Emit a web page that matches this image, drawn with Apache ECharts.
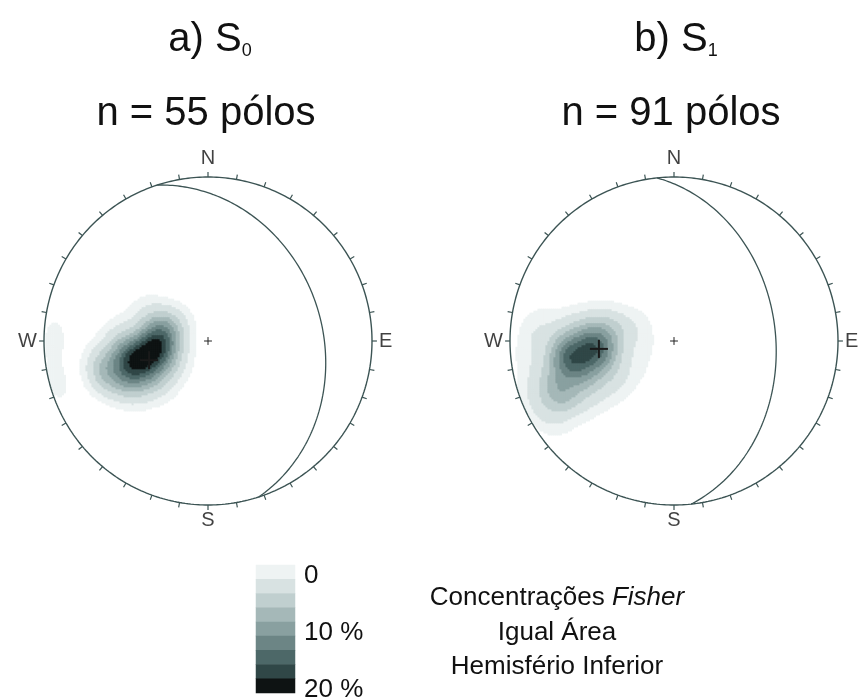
<!DOCTYPE html>
<html><head><meta charset="utf-8">
<script src="https://cdn.jsdelivr.net/npm/echarts@6/dist/echarts.min.js"></script>
<style>html,body{margin:0;padding:0;background:#fff}#c{width:859px;height:697px}</style>
</head><body><div id="c"></div>
<script>
// ---- data: poles to S0 and S1 as [trend, plunge] in degrees (lower hemisphere) ----
const polesS0 = [
  [254,54],[256,53],[250,55],[252,52],[256,57],[249,53],[259,56],[255,51],
  [264,48],[238,59],[245,45],[278,66],[256,43],
  [263,64],[267,62],[260,65],[269,66],[260,61],[264,67],[266,64],[251,31],
  [272,60],[279,68],[290,70],[245,47],[251,46],[240,57],[245,63],[250,71],[262,45],[268,50],[236,52],[290,66],
  [260,51],[254,61],[264,59],[254,48],[250,67],
  [254,38],[251,34],[257,32],[246,38],[236,45],[228,57],[234,68],[266,71],[294,73],[295,55],[284,61],[274,44],
  [260,36],[242,42],[295,66],
  [271,7],[255,5]
];
const polesS1 = [
  [264,50],[267,48],[260,48],[260,53],[267,46],[263,49],[264,52],[269,48],[263,54],[262,45],[264,51],
  [272,55],[265,58],[271,44],[265,42],[256,43],[253,51],[254,57],[276,47],[275,53],[272,61],[259,40],[247,52],
  [261,35],[263,34],[259,36],[258,33],[264,38],[261,31],[255,37],[266,35],[262,32],[252,35],
  [245,25],[247,24],[243,27],[244,20],[249,27],[246,30],
  [249,36],[245,38],[246,43],[256,20],[262,25],[266,28],[271,31],[274,39],[280,41],[282,49],[285,57],[282,62],[260,33],[246,25],[241,56],[239,43],[240,31],[243,15],[252,15],[255,24],
  [271,13],[263,9],[275,16],[276,22],[278,33],[287,51],[293,66],[289,72],[256,74],[234,66],[232,55],[233,46],[235,34],[237,18],[239,9],[250,7],[244,6],
  [258,44],[262,37],[260,32],[246,25],[251,42],[280,56],[247,18],
  [262,42],[270,45],[257,54],[273,52],[267,39],[253,46],[261,59],[250,41]
];
// mean planes [dip direction, dip]
const planeS0 = [72, 31];
const planeS1 = [84, 38];
// density classes (% per 1% area) and colours
const levelBounds = [1.0, 2.5, 5, 7.5, 10, 12.5, 15, 17.5, 20];
const levelColors = ['#eef3f3','#d8e2e2','#c0cfcf','#a5b8b8','#89a0a0','#6c8585','#4d6868','#304747','#0e1313'];
const legendValues = [1.5, 3.5, 6, 8.5, 11, 13.5, 16, 18.5, 22];
const legendLabels = ['0','','','','10 %','','','','20 %'];
const compassLabels = ['N','E','S','W'];
const plotTitles = [['a) S','0'],['b) S','1']];
const countTitles = ['n = 55 pólos','n = 91 pólos'];
const noteLines = ['Concentrações ','Fisher','Igual Área','Hemisfério Inferior'];

// ---- helpers ----
const D = Math.PI/180, R = 164, EXT = 1.1, NB = 180, KAPPA = 80;
const centers = [[208,341],[674,341]];
const FONT = 'Liberation Sans, Arial, sans-serif';
const LINE = '#3c5454';

function project(trend, plunge){
  const r = Math.SQRT2*Math.sin((90-plunge)*D/2);
  return [r*Math.sin(trend*D), r*Math.cos(trend*D)];
}
function greatCircle(pl){
  const dd = pl[0], dip = pl[1], s = (dd-90)*D;
  const sv = [Math.sin(s), Math.cos(s), 0];
  const dv = [Math.cos(dip*D)*Math.sin(dd*D), Math.cos(dip*D)*Math.cos(dd*D), Math.sin(dip*D)];
  const pts = [];
  for (let a=0; a<=180; a++){
    const c = Math.cos(a*D), sn = Math.sin(a*D);
    const x = sv[0]*c+dv[0]*sn, y = sv[1]*c+dv[1]*sn, z = Math.max(0, sv[2]*c+dv[2]*sn);
    pts.push(project(Math.atan2(x,y)/D, Math.asin(Math.min(1,z))/D));
  }
  return pts;
}
function densityCells(poles){
  const N = poles.length;
  const vecs = poles.map(p => [Math.cos(p[1]*D)*Math.sin(p[0]*D), Math.cos(p[1]*D)*Math.cos(p[0]*D), Math.sin(p[1]*D)]);
  const out = [];
  for (let i=0;i<NB;i++) for (let j=0;j<NB;j++){
    const u = -EXT+(i+0.5)*2*EXT/NB, v = -EXT+(j+0.5)*2*EXT/NB;
    const r = Math.hypot(u,v); if (r>1) continue;
    const th = 2*Math.asin(r/Math.SQRT2), tr = Math.atan2(u,v);
    const x = Math.sin(th)*Math.sin(tr), y = Math.sin(th)*Math.cos(tr), z = Math.cos(th);
    let s = 0;
    for (const q of vecs) s += Math.exp(KAPPA*(x*q[0]+y*q[1]+z*q[2]-1));
    const d = KAPPA/N*s;
    if (d >= levelBounds[0]) out.push([i,j,d]);
  }
  return out;
}
const circlePts = []; for (let a=0;a<=360;a++) circlePts.push([Math.sin(a*D), Math.cos(a*D)]);
const tickSegs = []; for (let a=0;a<360;a+=10){ const s=Math.sin(a*D), c=Math.cos(a*D); tickSegs.push([s,c,s*1.03,c*1.03]); }
const cats = Array.from({length:NB}, (_,i)=>String(i));

const grids=[], xAxes=[], yAxes=[], series=[], heatIdx=[];
[[polesS0, planeS0],[polesS1, planeS1]].forEach((set, g) => {
  const [cx, cy] = centers[g];
  grids.push({left: cx-R*EXT, top: cy-R*EXT, width: 2*R*EXT, height: 2*R*EXT, outerBoundsMode:'none', containLabel:false});
  xAxes.push({type:'category', gridIndex:g, data:cats, show:false});
  xAxes.push({type:'value', gridIndex:g, min:-EXT, max:EXT, show:false});
  yAxes.push({type:'category', gridIndex:g, data:cats, show:false});
  yAxes.push({type:'value', gridIndex:g, min:-EXT, max:EXT, show:false});
  heatIdx.push(series.length);
  series.push({type:'heatmap', xAxisIndex:2*g, yAxisIndex:2*g, data:densityCells(set[0]), progressive:0, silent:true, itemStyle:{borderWidth:0}});
  const vx = 2*g+1;
  series.push({type:'line', xAxisIndex:vx, yAxisIndex:vx, data:circlePts, showSymbol:false, symbol:'none', z:3, silent:true, clip:false, lineStyle:{color:LINE, width:1.4}});
  series.push({type:'line', xAxisIndex:vx, yAxisIndex:vx, data:greatCircle(set[1]), showSymbol:false, symbol:'none', z:3, silent:true, clip:false, lineStyle:{color:LINE, width:1.3}});
  const pole = project(set[1][0]+180, 90-set[1][1]);
  const segs = tickSegs.map(t=>t.concat([LINE,1.2]))
    .concat([[-0.024,0,0.024,0,'#222',1],[0,-0.024,0,0.024,'#222',1]])
    .concat([[pole[0]-0.055,pole[1],pole[0]+0.055,pole[1],'#1a1a1a',2],[pole[0],pole[1]-0.055,pole[0],pole[1]+0.055,'#1a1a1a',2]]);
  series.push({type:'custom', xAxisIndex:vx, yAxisIndex:vx, z:4, silent:true, data:segs,
    encode:{x:[0,2], y:[1,3]},
    renderItem:(params, api)=>{
      const p1 = api.coord([api.value(0), api.value(1)]), p2 = api.coord([api.value(2), api.value(3)]);
      const it = segs[params.dataIndex];
      return {type:'line', shape:{x1:p1[0],y1:p1[1],x2:p2[0],y2:p2[1]}, style:{stroke:it[4], lineWidth:it[5]}};
    }});
  series.push({type:'scatter', xAxisIndex:vx, yAxisIndex:vx, symbolSize:0, z:4, silent:true,
    label:{show:true, color:'#111', fontSize:20, fontFamily:FONT},
    data:[
      {value:[0,1], label:{formatter:compassLabels[0], position:'top', distance:9}},
      {value:[1,0], label:{formatter:compassLabels[1], position:'right', distance:7}},
      {value:[0,-1], label:{formatter:compassLabels[2], position:'bottom', distance:5}},
      {value:[-1,0], label:{formatter:compassLabels[3], position:'left', distance:7}}
    ]});
});
// legend bar
grids.push({left:256, top:565, width:39, height:128, outerBoundsMode:'none', containLabel:false});
xAxes.push({type:'category', gridIndex:2, data:['c'], show:false});
yAxes.push({type:'category', gridIndex:2, data:legendLabels.map((_,i)=>String(i)), inverse:true, position:'right',
  axisLine:{show:false}, axisTick:{show:false}, splitLine:{show:false},
  axisLabel:{interval:0, margin:9, fontSize:26, color:'#111', fontFamily:FONT, verticalAlign:'top', lineHeight:8, formatter:(v,i)=>legendLabels[i]}});
heatIdx.push(series.length);
series.push({type:'heatmap', xAxisIndex:4, yAxisIndex:4, data:legendValues.map((v,i)=>[0,i,v]), progressive:0, silent:true});

const pieces = levelBounds.map((b,i)=> i<levelBounds.length-1 ? {gte:b, lt:levelBounds[i+1], color:levelColors[i]} : {gte:b, color:levelColors[i]});

const titleRich = {m:{fontSize:40, fontFamily:FONT, fill:'#111', verticalAlign:'bottom'}, s:{fontSize:18, fontFamily:FONT, fill:'#111', verticalAlign:'bottom'}};
const graphic = [
  {type:'text', x:210, y:40, style:{text:'{m|'+plotTitles[0][0]+'}{s|'+plotTitles[0][1]+'}', rich:titleRich, textAlign:'center', textVerticalAlign:'middle'}},
  {type:'text', x:676, y:40, style:{text:'{m|'+plotTitles[1][0]+'}{s|'+plotTitles[1][1]+'}', rich:titleRich, textAlign:'center', textVerticalAlign:'middle'}},
  {type:'text', x:206, y:114, style:{text:countTitles[0], font:'40px '+FONT, fill:'#111', textAlign:'center', textVerticalAlign:'middle'}},
  {type:'text', x:671, y:114, style:{text:countTitles[1], font:'40px '+FONT, fill:'#111', textAlign:'center', textVerticalAlign:'middle'}},
  {type:'text', x:557, y:598, style:{text:'{n|'+noteLines[0]+'}{i|'+noteLines[1]+'}', textAlign:'center', textVerticalAlign:'middle',
     rich:{n:{fontSize:26, fontFamily:FONT, fill:'#111'}, i:{fontSize:26, fontFamily:FONT, fontStyle:'italic', fill:'#111'}}}},
  {type:'text', x:557, y:633, style:{text:noteLines[2], font:'26px '+FONT, fill:'#111', textAlign:'center', textVerticalAlign:'middle'}},
  {type:'text', x:557, y:667, style:{text:noteLines[3], font:'26px '+FONT, fill:'#111', textAlign:'center', textVerticalAlign:'middle'}}
];

const chart = echarts.init(document.getElementById('c'), null, {renderer:'canvas'});
chart.setOption({
  animation:false,
  backgroundColor:'#ffffff',
  grid:grids, xAxis:xAxes, yAxis:yAxes,
  visualMap:{type:'piecewise', show:false, seriesIndex:heatIdx, pieces:pieces, outOfRange:{color:'rgba(0,0,0,0)'}},
  series:series,
  graphic:graphic
});
</script></body></html>
